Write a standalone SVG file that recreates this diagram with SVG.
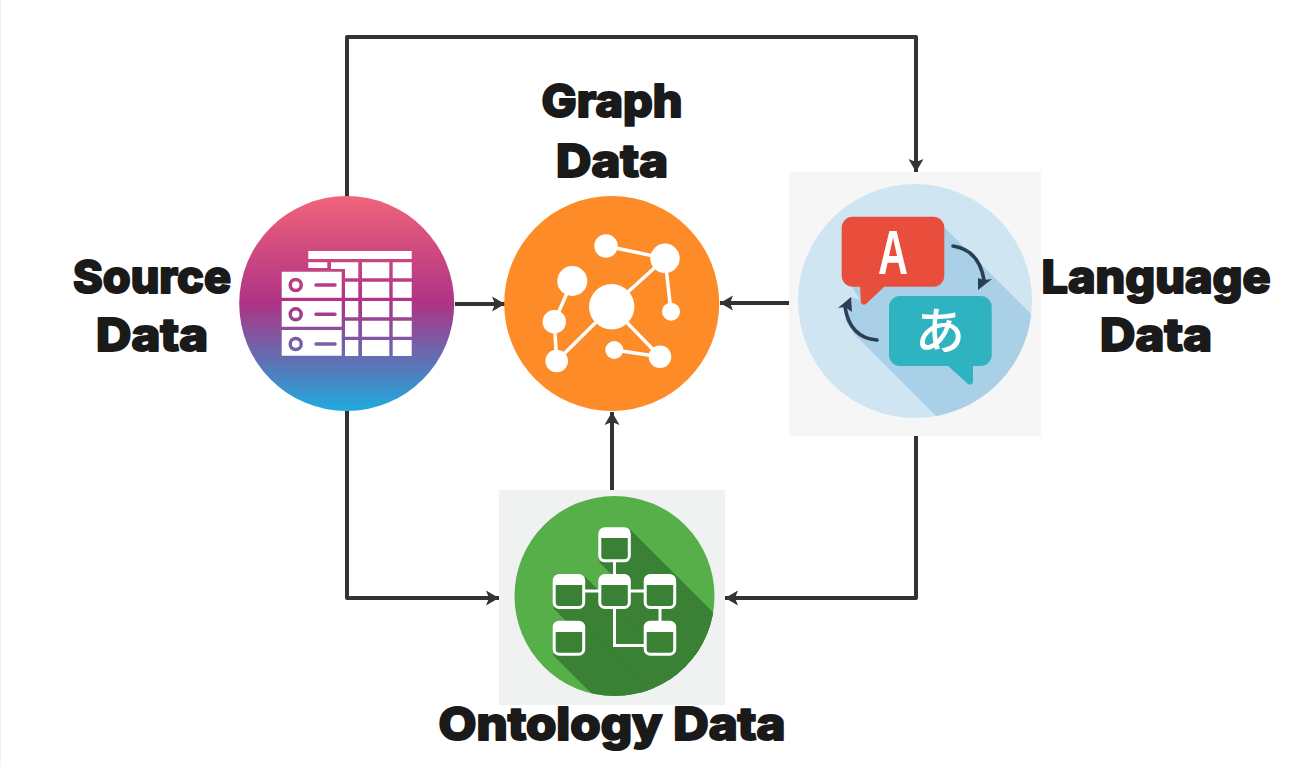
<svg xmlns="http://www.w3.org/2000/svg" width="1304" height="766" viewBox="0 0 1304 766">
<style>
.lbl{font-family:"Inter","Roboto","Liberation Sans",sans-serif;font-weight:800;font-size:45px;fill:#1a1a1a;stroke:#1a1a1a;stroke-width:2;stroke-linejoin:round;text-anchor:middle}
.conn{fill:none;stroke:#333;stroke-width:4;stroke-linejoin:round}
.w{fill:#fff}
.e{stroke:#fff;stroke-width:3.5;fill:none}
.box{fill:#3a8135;stroke:#fff;stroke-width:3}
.sh{fill:#3a8135}
.dash{stroke:url(#srcGrad);stroke-width:3.5;stroke-linecap:round;fill:none}
.ring{fill:#fff;stroke:url(#srcGrad);stroke-width:3.5}
.curve{fill:none;stroke:#2c3e57;stroke-width:3.6;stroke-linecap:round}
</style>
<defs>
<linearGradient id="srcGrad" gradientUnits="userSpaceOnUse" x1="0" y1="196" x2="0" y2="411">
<stop offset="0" stop-color="#f0647a"/><stop offset=".25" stop-color="#cf4a80"/><stop offset=".5" stop-color="#ae3386"/><stop offset=".78" stop-color="#5c74b6"/><stop offset="1" stop-color="#1eabe0"/>
</linearGradient>
<marker id="ah" markerUnits="userSpaceOnUse" markerWidth="15" markerHeight="16" refX="13" refY="8" orient="auto"><path d="M0 .5L13 8L0 15.5L3 8Z" fill="#333"/></marker>
<clipPath id="langClip"><circle cx="915" cy="301" r="117"/></clipPath>
<clipPath id="ontoClip"><circle cx="614.5" cy="596" r="100"/></clipPath>
</defs>
<rect width="1304" height="766" fill="#fff"/>
<path d="M.5 0V766" stroke="#f2f2f2" stroke-width="1"/>
<g id="connectors">
<path class="conn" marker-end="url(#ah)" d="M347 197V37H916V172"/>
<path class="conn" marker-end="url(#ah)" d="M347 411V598H499"/>
<path class="conn" marker-end="url(#ah)" d="M455 304H505"/>
<path class="conn" marker-end="url(#ah)" d="M790 303H720"/>
<path class="conn" marker-end="url(#ah)" d="M916 436V598H725"/>
<path class="conn" marker-end="url(#ah)" d="M612 490V412"/>
</g>
<g id="source-data">
<circle cx="346.7" cy="303.5" r="107.5" fill="url(#srcGrad)"/>
<path class="w" d="M308.3 251H411.7V259H308.3ZM308.3 262.3H327.3V268H308.3ZM331 262.3H358.3V278.3H345V269H331ZM362 262.3H389.3V278.3H362ZM392.7 262.3H411.7V278.3H392.7ZM345 281.7H358.3V297.7H345ZM362 281.7H389.3V297.7H362ZM392.7 281.7H411.7V297.7H392.7ZM345 301H358.3V317.3H345ZM362 301H389.3V317.3H362ZM392.7 301H411.7V317.3H392.7ZM345 320.7H358.3V336.7H345ZM362 320.7H389.3V336.7H362ZM392.7 320.7H411.7V336.7H392.7ZM345 340H358.3V356H345ZM362 340H389.3V356H362ZM392.7 340H411.7V356H392.7ZM281.7 271.7H341.7V297.7H281.7ZM281.7 301H341.7V326.7H281.7ZM281.7 330H341.7V355.7H281.7Z"/>
<circle class="ring" cx="295.7" cy="285" r="5.5"/><circle class="ring" cx="295.7" cy="314.3" r="5.5"/><circle class="ring" cx="295.7" cy="344" r="5.5"/>
<path class="dash" d="M316 285H335M316 314.3H335M316 344H335"/>
<text class="lbl" x="152" y="293" textLength="158" lengthAdjust="spacingAndGlyphs">Source</text><text class="lbl" x="152" y="351" textLength="112" lengthAdjust="spacingAndGlyphs">Data</text>
</g>
<g id="graph-data">
<circle cx="611.7" cy="303.5" r="107.5" fill="#fd8c28"/>
<path class="e" d="M606 246L665 258.3L611.7 306.7L556.7 361L554.3 321.7L572.3 281M665 258.3L671 311.7M611.7 306.7L660 356.7L614.3 350"/>
<g class="w"><circle cx="611.7" cy="306.7" r="22.7"/><circle cx="606" cy="246" r="11.7"/><circle cx="665" cy="258.3" r="14.7"/><circle cx="572.3" cy="281" r="15"/><circle cx="554.3" cy="321.7" r="11.7"/><circle cx="556.7" cy="361" r="11.3"/><circle cx="671" cy="311.7" r="9"/><circle cx="614.3" cy="350" r="9"/><circle cx="660" cy="356.7" r="11.3"/></g>
<text class="lbl" x="612" y="117" textLength="141" lengthAdjust="spacingAndGlyphs">Graph</text><text class="lbl" x="612" y="177" textLength="112" lengthAdjust="spacingAndGlyphs">Data</text>
</g>
<g id="language-data">
<rect x="789" y="172" width="252" height="264" fill="#f6f6f6"/>
<circle cx="915" cy="301" r="117" fill="#cfe6f2"/>
<path clip-path="url(#langClip)" fill="#a9d0e6" d="M944 227L1060 343V440H960L855 335L845 320L851 297L860 300L850 284Z"/>
<rect x="841.7" y="216.7" width="102.6" height="70" rx="11" fill="#e94e3c"/>
<path d="M860 285L861 303Q863 306 866 304L886 285Z" fill="#e94e3c"/>
<rect x="889" y="296" width="102.7" height="70" rx="11" fill="#2fb3c1"/>
<path d="M947 365L968 384Q972 386 973 382V365Z" fill="#2fb3c1"/>
<text transform="translate(893 274) scale(.66 1)" font-family="'Liberation Sans',sans-serif" font-weight="700" font-size="63" fill="#fff" text-anchor="middle">A</text>
<text x="940" y="349" font-family="'Noto Sans CJK JP',sans-serif" font-weight="500" font-size="50" fill="#fff" text-anchor="middle">あ</text>
<path class="curve" d="M953 246Q979 250 984 280"/><path d="M978 290L992 279L984 280L978 278Z" fill="#2c3e57"/>
<path class="curve" d="M877 340Q850 338 845 307"/><path d="M851 297L838 308L845 307L852 312Z" fill="#2c3e57"/>
<text class="lbl" x="1156" y="293" textLength="229" lengthAdjust="spacingAndGlyphs">Language</text><text class="lbl" x="1156" y="351" textLength="112" lengthAdjust="spacingAndGlyphs">Data</text>
</g>
<g id="ontology-data">
<rect x="499" y="490" width="226" height="215" fill="#f0f2f1"/>
<circle cx="614.5" cy="596" r="100" fill="#56af48"/>
<g clip-path="url(#ontoClip)">
<path class="sh" d="M630.7 530L830.7 730L800 762L599 562Z"/>
<path class="sh" d="M631 575L831 775L799 808L599 608Z"/>
<path class="sh" d="M585.3 577L785 777L753 808L553 608Z"/>
<path class="sh" d="M676 577L876 777L844 808L644 608Z"/>
<path class="sh" d="M585.3 624L785 824L753 855L553 655Z"/>
<path class="sh" d="M676 624L876 824L844 855L644 655Z"/>
</g>
<path d="M614.5 562V576M585 591H600M629 591H646M660 607V622M614.5 608V645.5H645" stroke="#fff" stroke-width="3" fill="none"/>
<g>
<rect class="box" x="599.8" y="528.8" width="29.5" height="32" rx="5"/><path class="w" d="M599 538V533Q599 528 604 528H625Q630 528 630 533V538Z"/>
<rect class="box" x="599.8" y="575.5" width="29.5" height="32" rx="5"/><path class="w" d="M599 585V580Q599 575 604 575H625Q630 575 630 580V585Z"/>
<rect class="box" x="554.2" y="575.5" width="29.5" height="32" rx="5"/><path class="w" d="M553.4 585V580Q553.4 575 558.4 575H579.4Q584.4 575 584.4 580V585Z"/>
<rect class="box" x="645.2" y="575.5" width="29.5" height="32" rx="5"/><path class="w" d="M644.4 585V580Q644.4 575 649.4 575H670.4Q675.4 575 675.4 580V585Z"/>
<rect class="box" x="554.2" y="622.2" width="29.5" height="32" rx="5"/><path class="w" d="M553.4 632V627Q553.4 622 558.4 622H579.4Q584.4 622 584.4 627V632Z"/>
<rect class="box" x="645.2" y="622.2" width="29.5" height="32" rx="5"/><path class="w" d="M644.4 632V627Q644.4 622 649.4 622H670.4Q675.4 622 675.4 627V632Z"/>
</g>
<text class="lbl" x="612" y="740" textLength="347" lengthAdjust="spacingAndGlyphs">Ontology Data</text>
</g>
</svg>
